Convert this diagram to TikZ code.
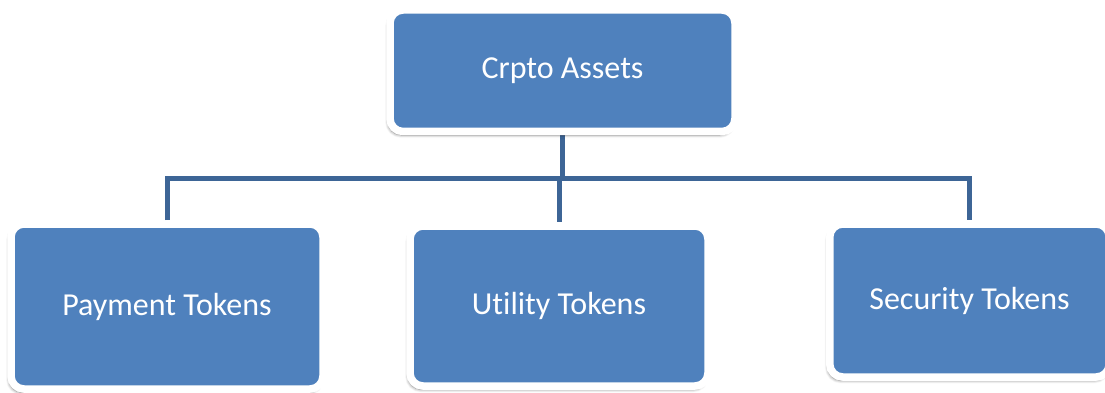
\documentclass[tikz,border=0pt]{standalone}
\usepackage{fontspec}
\setmainfont{Carlito}[Ligatures=NoCommon]
\usetikzlibrary{shadows.blur,backgrounds}
\definecolor{boxblue}{HTML}{4F81BD}
\definecolor{linkblue}{HTML}{3D6596}
\tikzset{
  box/.style={fill=boxblue, draw=white, line width=7.5pt, rounded corners=13pt,
    inner sep=0pt, text=white, font=\fontsize{32}{38}\selectfont,
    blur shadow={shadow xshift=-2pt, shadow yshift=-3.5pt, shadow blur steps=6, shadow blur radius=3pt, shadow opacity=50}},
  conn/.style={draw=linkblue, line width=5pt}
}
\begin{document}
\begin{tikzpicture}[x=1pt,y=-1pt]
\useasboundingbox (0,0) rectangle (1105,393);
\node[box, minimum width=345pt, minimum height=121.5pt] (top) at (562.5,70.75) {Crpto Assets};
\node[box, minimum width=312pt, minimum height=165pt] (pay) at (167,306.5) {Payment Tokens};
\node[box, minimum width=298pt, minimum height=160pt] (util) at (559,306) {Utility Tokens};
\node[box, minimum width=279.5pt, minimum height=153pt] (sec) at (969.5,300.5) {Security Tokens};
\coordinate (bus) at (0,178);
\begin{scope}[on background layer]
\draw[conn] (top.south) -- (top.south |- bus);
\draw[conn] (pay.north) -- (pay.north |- bus) -- (sec.north |- bus) -- (sec.north);
\draw[conn] (util.north |- bus) -- (util.north);
\end{scope}
\end{tikzpicture}
\end{document}
